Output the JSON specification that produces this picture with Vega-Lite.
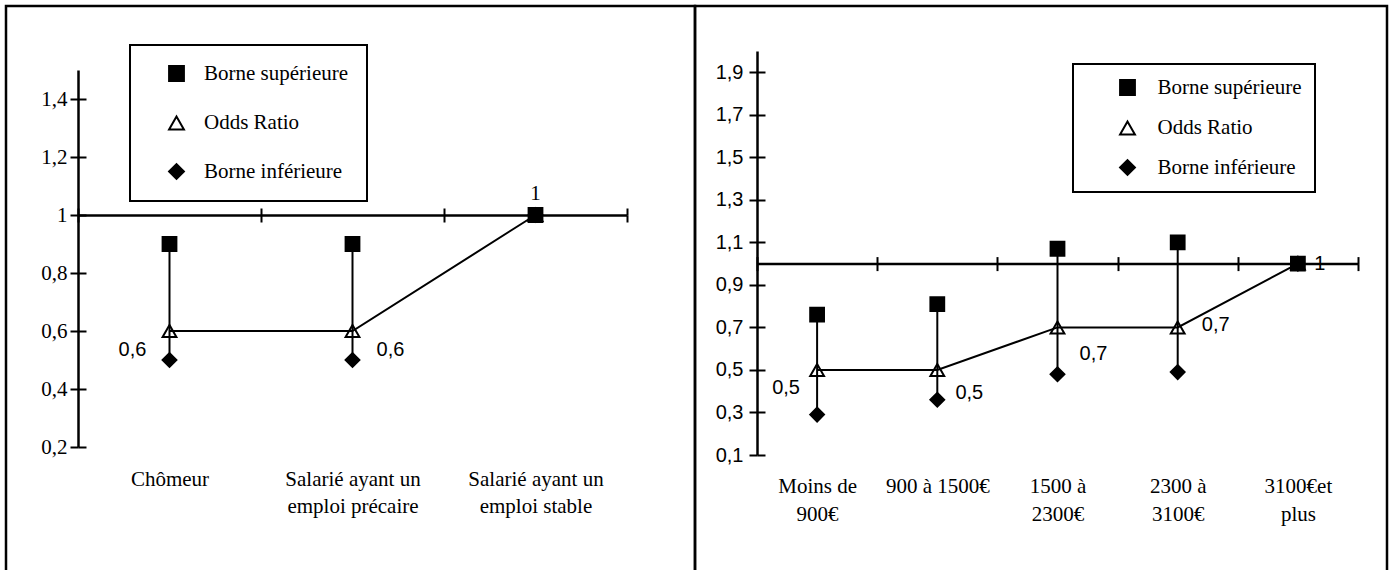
{
  "$schema": "https://vega.github.io/schema/vega-lite/v6.json",
  "padding": {"left": 4, "top": 4, "right": 0, "bottom": 0},
  "spacing": 0,
  "bounds": "flush",
  "config": {
    "view": {"stroke": "black", "strokeWidth": 2.5},
    "axis": {"grid": false},
    "legend": {"strokeWidth": 2},
    "locale": {"number": {"decimal": ",", "thousands": " ", "grouping": [3], "currency": ["", " €"]}}
  },
  "resolve": {
    "scale": {"shape": "independent", "color": "independent"},
    "legend": {"color": "independent"}
  },
  "hconcat": [
    {
      "width": 689,
      "height": 570,
      "data": {"values": [
        {"cat": "Chômeur", "Borne supérieure": 0.9, "Odds Ratio": 0.6, "Borne inférieure": 0.5},
        {"cat": "Salarié ayant un\nemploi précaire", "Borne supérieure": 0.9, "Odds Ratio": 0.6, "Borne inférieure": 0.5},
        {"cat": "Salarié ayant un\nemploi stable", "Borne supérieure": 1, "Odds Ratio": 1, "Borne inférieure": 1}
      ]},
      "layer": [
        {
          "encoding": {
            "x": {"field": "cat", "type": "nominal", "sort": null,
              "scale": {"type": "band", "domain": ["Chômeur", "Salarié ayant un\nemploi précaire", "Salarié ayant un\nemploi stable"], "range": [72, 621], "paddingInner": 0, "paddingOuter": 0},
              "axis": {"orient": "bottom", "offset": -361, "title": null, "domain": true, "domainColor": "black", "domainWidth": 2.5, "ticks": true, "tickBand": "extent", "tickColor": "black", "tickWidth": 2, "tickSize": 7, "labelAngle": 0, "labelPadding": 246, "labelFont": "Liberation Serif", "labelFontSize": 21, "labelColor": "black", "labelLineHeight": 27, "labelExpr": "split(datum.label, '\\n')", "labelBaseline": "top", "labelAlign": "center", "labelLimit": 400, "labelOverlap": false}
            },
            "y": {"field": "Odds Ratio", "type": "quantitative",
              "scale": {"domain": [0.2, 1.5], "range": [441, 64], "nice": false, "zero": false},
              "axis": {"orient": "left", "offset": -72, "title": null, "values": [0.2, 0.4, 0.6, 0.8, 1, 1.2, 1.4], "format": ".1~f", "domain": true, "domainColor": "black", "domainWidth": 2.5, "ticks": true, "tickColor": "black", "tickWidth": 2, "tickSize": 8, "labels": true, "labelPadding": 3, "labelFont": "Liberation Serif", "labelFontSize": 21, "labelColor": "black", "labelOverlap": false}
            }
          },
          "layer": [
            {
              "mark": {"type": "rule", "color": "black", "strokeWidth": 2},
              "encoding": {
                "y": {"field": "Borne inférieure", "type": "quantitative",
                  "scale": {"domain": [0.2, 1.5], "range": [441, 64], "nice": false, "zero": false},
                  "axis": {"orient": "left", "offset": -72, "title": null, "values": [0.2, 0.4, 0.6, 0.8, 1, 1.2, 1.4], "format": ".1~f", "domain": true, "domainColor": "black", "domainWidth": 2.5, "ticks": true, "tickColor": "black", "tickWidth": 2, "tickSize": 8, "labels": true, "labelPadding": 3, "labelFont": "Liberation Serif", "labelFontSize": 21, "labelColor": "black", "labelOverlap": false}},
                "y2": {"field": "Borne supérieure"}
              }
            },
            {
              "mark": {"type": "line", "color": "black", "strokeWidth": 2}
            },
            {
              "transform": [{"fold": ["Borne inférieure", "Odds Ratio", "Borne supérieure"], "as": ["serie", "valeur"]}],
              "mark": {"type": "point", "filled": true, "size": 190, "opacity": 1, "stroke": "black", "strokeWidth": 2},
              "encoding": {
                "y": {"field": "valeur", "type": "quantitative",
                  "scale": {"domain": [0.2, 1.5], "range": [441, 64], "nice": false, "zero": false},
                  "axis": {"orient": "left", "offset": -72, "title": null, "values": [0.2, 0.4, 0.6, 0.8, 1, 1.2, 1.4], "format": ".1~f", "domain": true, "domainColor": "black", "domainWidth": 2.5, "ticks": true, "tickColor": "black", "tickWidth": 2, "tickSize": 8, "labels": true, "labelPadding": 3, "labelFont": "Liberation Serif", "labelFontSize": 21, "labelColor": "black", "labelOverlap": false}},
                "shape": {"field": "serie", "type": "nominal",
                  "scale": {"domain": ["Borne supérieure", "Odds Ratio", "Borne inférieure"], "range": ["square", "triangle-up", "diamond"]},
                  "legend": null
                },
                "color": {"field": "serie", "type": "nominal",
                  "scale": {"domain": ["Borne supérieure", "Odds Ratio", "Borne inférieure"], "range": ["black", "transparent", "black"]},
                  "legend": {"orient": "none", "legendX": 124, "legendY": 39, "direction": "vertical", "title": null, "padding": 18, "strokeColor": "black", "fillColor": "white", "symbolSize": 220, "symbolStrokeColor": "black", "symbolStrokeWidth": 2, "symbolOffset": 18, "labelOffset": 17, "labelFont": "Liberation Serif", "labelFontSize": 21, "labelColor": "black", "rowPadding": 26.5, "labelLimit": 400,
                    "encode": {"legend": {"strokeWidth": {"value": 2}}, "symbols": {"stroke": {"value": "black"}, "strokeWidth": {"value": 2}, "shape": {"value": {"expr": "datum.value === 'Odds Ratio' ? 'M-3.9,0H-0.5M0.5,0H3.9M0,-0.866L-1,0.866L1,0.866Z' : datum.value === 'Borne supérieure' ? 'square' : 'diamond'"}}}}}
                }
              }
            },
            {
              "transform": [{"filter": {"field": "cat", "equal": "Chômeur"}}],
              "mark": {"type": "text", "font": "Liberation Sans", "fontSize": 20, "color": "black", "dx": -37, "dy": 19, "align": "center", "baseline": "middle"},
              "encoding": {"text": {"field": "Odds Ratio", "type": "quantitative", "format": ".1~f"}}
            },
            {
              "transform": [{"filter": {"field": "cat", "equal": "Salarié ayant un\nemploi précaire"}}],
              "mark": {"type": "text", "font": "Liberation Sans", "fontSize": 20, "color": "black", "dx": 38, "dy": 19, "align": "center", "baseline": "middle"},
              "encoding": {"text": {"field": "Odds Ratio", "type": "quantitative", "format": ".1~f"}}
            },
            {
              "transform": [{"filter": {"field": "cat", "equal": "Salarié ayant un\nemploi stable"}}],
              "mark": {"type": "text", "font": "Liberation Serif", "fontSize": 21, "color": "black", "dx": 0, "dy": -21, "align": "center", "baseline": "middle"},
              "encoding": {"text": {"field": "Odds Ratio", "type": "quantitative", "format": ".1~f"}}
            }
          ]
        },
        {
          "mark": {"type": "point", "opacity": 0},
          "encoding": {
            "x": {"field": "cat", "type": "nominal", "sort": null,
              "scale": {"type": "band", "domain": ["Chômeur", "Salarié ayant un\nemploi précaire", "Salarié ayant un\nemploi stable"], "range": [72, 621], "paddingInner": 0, "paddingOuter": 0},
              "axis": {"orient": "top", "offset": -209, "title": null, "domain": false, "labels": false, "ticks": true, "tickBand": "extent", "tickColor": "black", "tickWidth": 2, "tickSize": 7}
            },
            "y": {"field": "Odds Ratio", "type": "quantitative",
              "scale": {"domain": [0.2, 1.5], "range": [441, 64], "nice": false, "zero": false},
              "axis": {"orient": "right", "offset": -617, "title": null, "domain": false, "labels": false, "values": [0.2, 0.4, 0.6, 0.8, 1, 1.2, 1.4], "tickColor": "black", "tickWidth": 2, "tickSize": 8}
            }
          }
        }
      ],
      "resolve": {"scale": {"x": "independent", "y": "independent"}}
    },
    {
      "width": 692,
      "height": 570,
      "data": {"values": [
        {"cat": "Moins de\n900€", "Borne supérieure": 0.76, "Odds Ratio": 0.5, "Borne inférieure": 0.29},
        {"cat": "900 à 1500€", "Borne supérieure": 0.81, "Odds Ratio": 0.5, "Borne inférieure": 0.36},
        {"cat": "1500 à\n2300€", "Borne supérieure": 1.07, "Odds Ratio": 0.7, "Borne inférieure": 0.48},
        {"cat": "2300 à\n3100€", "Borne supérieure": 1.1, "Odds Ratio": 0.7, "Borne inférieure": 0.49},
        {"cat": "3100€et\nplus", "Borne supérieure": 1, "Odds Ratio": 1, "Borne inférieure": 1}
      ]},
      "layer": [
        {
          "encoding": {
            "x": {"field": "cat", "type": "nominal", "sort": null,
              "scale": {"type": "band", "domain": ["Moins de\n900€", "900 à 1500€", "1500 à\n2300€", "2300 à\n3100€", "3100€et\nplus"], "range": [62, 663], "paddingInner": 0, "paddingOuter": 0},
              "axis": {"orient": "bottom", "offset": -312.4, "title": null, "domain": true, "domainColor": "black", "domainWidth": 2.5, "ticks": true, "tickBand": "extent", "tickColor": "black", "tickWidth": 2, "tickSize": 7, "labelAngle": 0, "labelPadding": 205, "labelFont": "Liberation Serif", "labelFontSize": 21, "labelColor": "black", "labelLineHeight": 28, "labelExpr": "split(datum.label, '\\n')", "labelBaseline": "top", "labelAlign": "center", "labelLimit": 400, "labelOverlap": false}
            },
            "y": {"field": "Odds Ratio", "type": "quantitative",
              "scale": {"domain": [0.1, 2.0], "range": [449, 45], "nice": false, "zero": false},
              "axis": {"orient": "left", "offset": -62, "title": null, "values": [0.1, 0.3, 0.5, 0.7, 0.9, 1.1, 1.3, 1.5, 1.7, 1.9], "format": ".1~f", "domain": true, "domainColor": "black", "domainWidth": 2.5, "ticks": true, "tickColor": "black", "tickWidth": 2, "tickSize": 8, "labels": true, "labelPadding": 6, "labelFont": "Liberation Sans", "labelFontSize": 20, "labelColor": "black", "labelOverlap": false}
            }
          },
          "layer": [
            {
              "mark": {"type": "rule", "color": "black", "strokeWidth": 2},
              "encoding": {
                "y": {"field": "Borne inférieure", "type": "quantitative",
                  "scale": {"domain": [0.1, 2.0], "range": [449, 45], "nice": false, "zero": false},
                  "axis": {"orient": "left", "offset": -62, "title": null, "values": [0.1, 0.3, 0.5, 0.7, 0.9, 1.1, 1.3, 1.5, 1.7, 1.9], "format": ".1~f", "domain": true, "domainColor": "black", "domainWidth": 2.5, "ticks": true, "tickColor": "black", "tickWidth": 2, "tickSize": 8, "labels": true, "labelPadding": 6, "labelFont": "Liberation Sans", "labelFontSize": 20, "labelColor": "black", "labelOverlap": false}},
                "y2": {"field": "Borne supérieure"}
              }
            },
            {
              "mark": {"type": "line", "color": "black", "strokeWidth": 2}
            },
            {
              "transform": [{"fold": ["Borne inférieure", "Odds Ratio", "Borne supérieure"], "as": ["serie", "valeur"]}],
              "mark": {"type": "point", "filled": true, "size": 190, "opacity": 1, "stroke": "black", "strokeWidth": 2},
              "encoding": {
                "y": {"field": "valeur", "type": "quantitative",
                  "scale": {"domain": [0.1, 2.0], "range": [449, 45], "nice": false, "zero": false},
                  "axis": {"orient": "left", "offset": -62, "title": null, "values": [0.1, 0.3, 0.5, 0.7, 0.9, 1.1, 1.3, 1.5, 1.7, 1.9], "format": ".1~f", "domain": true, "domainColor": "black", "domainWidth": 2.5, "ticks": true, "tickColor": "black", "tickWidth": 2, "tickSize": 8, "labels": true, "labelPadding": 6, "labelFont": "Liberation Sans", "labelFontSize": 20, "labelColor": "black", "labelOverlap": false}},
                "shape": {"field": "serie", "type": "nominal",
                  "scale": {"domain": ["Borne supérieure", "Odds Ratio", "Borne inférieure"], "range": ["square", "triangle-up", "diamond"]},
                  "legend": null
                },
                "color": {"field": "serie", "type": "nominal",
                  "scale": {"domain": ["Borne supérieure", "Odds Ratio", "Borne inférieure"], "range": ["black", "transparent", "black"]},
                  "legend": {"orient": "none", "legendX": 378, "legendY": 58, "direction": "vertical", "title": null, "padding": 13, "strokeColor": "black", "fillColor": "white", "symbolSize": 220, "symbolStrokeColor": "black", "symbolStrokeWidth": 2, "symbolOffset": 31, "labelOffset": 19.5, "labelFont": "Liberation Serif", "labelFontSize": 21, "labelColor": "black", "rowPadding": 17.5, "labelLimit": 400,
                    "encode": {"legend": {"strokeWidth": {"value": 2}}, "symbols": {"stroke": {"value": "black"}, "strokeWidth": {"value": 2}, "shape": {"value": {"expr": "datum.value === 'Odds Ratio' ? 'M-3.9,0H-0.5M0.5,0H3.9M0,-0.866L-1,0.866L1,0.866Z' : datum.value === 'Borne supérieure' ? 'square' : 'diamond'"}}}}}
                }
              }
            },
            {
              "transform": [{"filter": {"field": "cat", "equal": "Moins de\n900€"}}],
              "mark": {"type": "text", "font": "Liberation Sans", "fontSize": 20, "color": "black", "dx": -31, "dy": 18, "align": "center", "baseline": "middle"},
              "encoding": {"text": {"field": "Odds Ratio", "type": "quantitative", "format": ".1~f"}}
            },
            {
              "transform": [{"filter": {"field": "cat", "equal": "900 à 1500€"}}],
              "mark": {"type": "text", "font": "Liberation Sans", "fontSize": 20, "color": "black", "dx": 32, "dy": 23, "align": "center", "baseline": "middle"},
              "encoding": {"text": {"field": "Odds Ratio", "type": "quantitative", "format": ".1~f"}}
            },
            {
              "transform": [{"filter": {"field": "cat", "equal": "1500 à\n2300€"}}],
              "mark": {"type": "text", "font": "Liberation Sans", "fontSize": 20, "color": "black", "dx": 36, "dy": 27, "align": "center", "baseline": "middle"},
              "encoding": {"text": {"field": "Odds Ratio", "type": "quantitative", "format": ".1~f"}}
            },
            {
              "transform": [{"filter": {"field": "cat", "equal": "2300 à\n3100€"}}],
              "mark": {"type": "text", "font": "Liberation Sans", "fontSize": 20, "color": "black", "dx": 38, "dy": -2, "align": "center", "baseline": "middle"},
              "encoding": {"text": {"field": "Odds Ratio", "type": "quantitative", "format": ".1~f"}}
            },
            {
              "transform": [{"filter": {"field": "cat", "equal": "3100€et\nplus"}}],
              "mark": {"type": "text", "font": "Liberation Sans", "fontSize": 20, "color": "black", "dx": 22, "dy": 0, "align": "center", "baseline": "middle"},
              "encoding": {"text": {"field": "Odds Ratio", "type": "quantitative", "format": ".1~f"}}
            }
          ]
        },
        {
          "mark": {"type": "point", "opacity": 0},
          "encoding": {
            "x": {"field": "cat", "type": "nominal", "sort": null,
              "scale": {"type": "band", "domain": ["Moins de\n900€", "900 à 1500€", "1500 à\n2300€", "2300 à\n3100€", "3100€et\nplus"], "range": [62, 663], "paddingInner": 0, "paddingOuter": 0},
              "axis": {"orient": "top", "offset": -257.6, "title": null, "domain": false, "labels": false, "ticks": true, "tickBand": "extent", "tickColor": "black", "tickWidth": 2, "tickSize": 7}
            },
            "y": {"field": "Odds Ratio", "type": "quantitative",
              "scale": {"domain": [0.1, 2.0], "range": [449, 45], "nice": false, "zero": false},
              "axis": {"orient": "right", "offset": -630, "title": null, "domain": false, "labels": false, "values": [0.1, 0.3, 0.5, 0.7, 0.9, 1.1, 1.3, 1.5, 1.7, 1.9], "tickColor": "black", "tickWidth": 2, "tickSize": 8}
            }
          }
        }
      ]
    }
  ]
}
